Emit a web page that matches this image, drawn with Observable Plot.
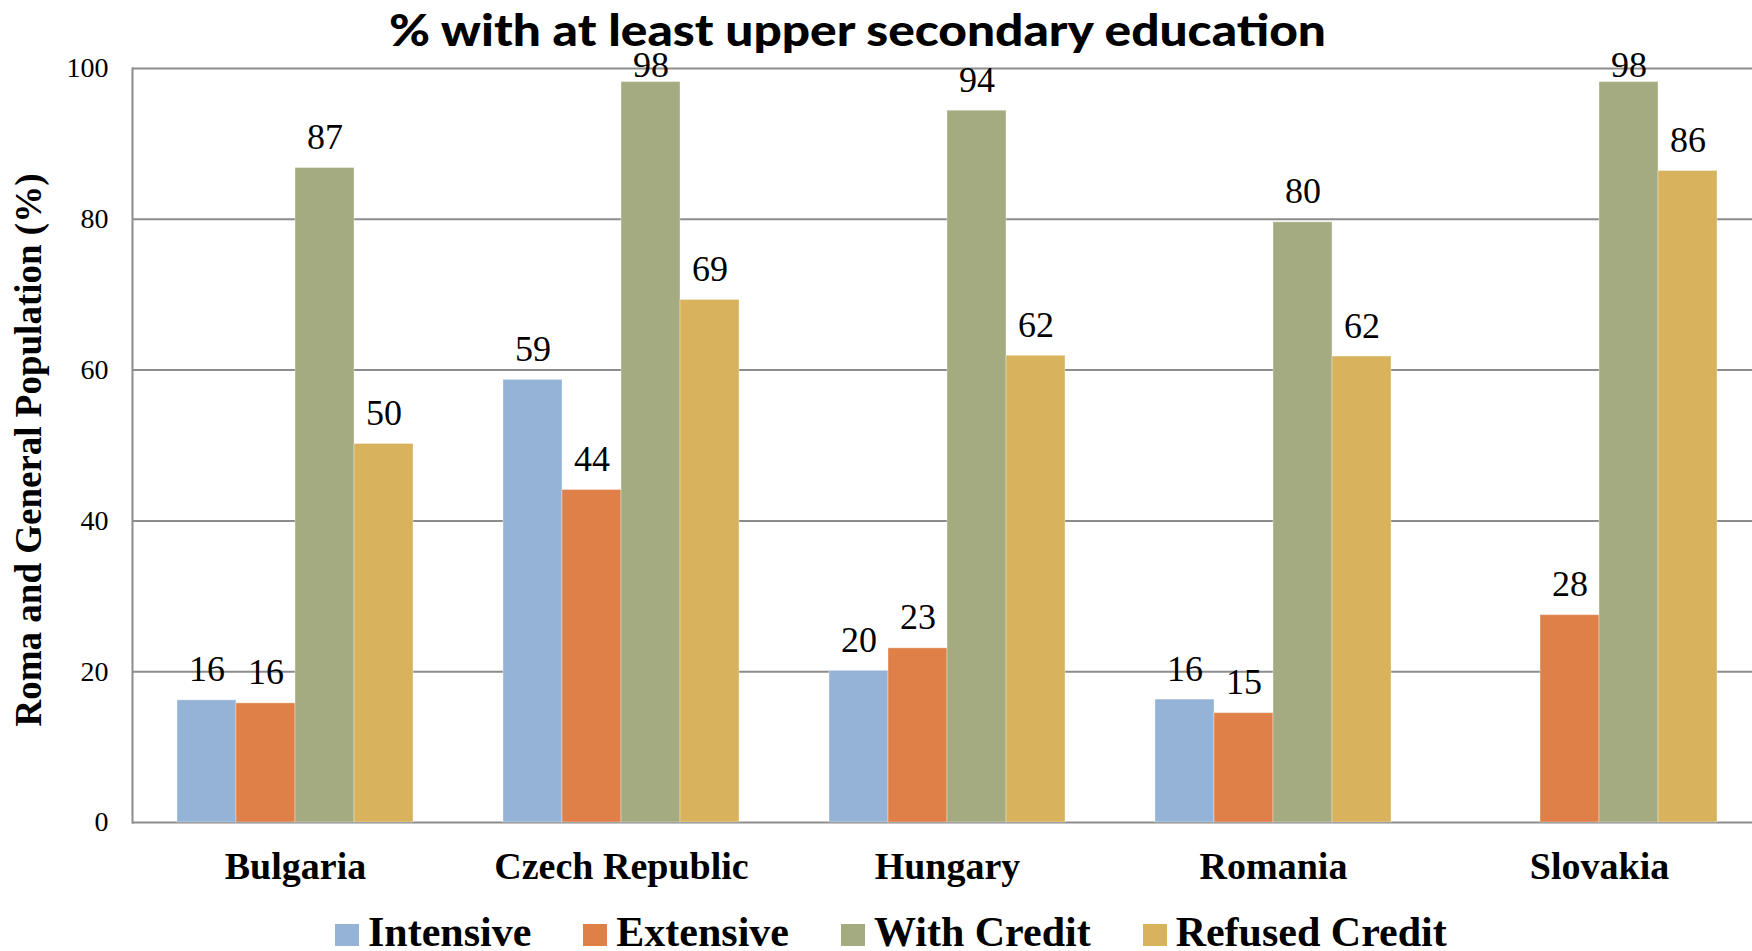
<!DOCTYPE html>
<html>
<head>
<meta charset="utf-8">
<script src="https://cdn.jsdelivr.net/npm/d3@7"></script>
<script src="https://cdn.jsdelivr.net/npm/@observablehq/plot@0.6"></script>
<style>
  body { margin: 0; background: #fff; }
  #wrap { position: relative; width: 1752px; height: 951px; overflow: hidden; background: #fff; }
  #wrap svg { position: absolute; left: 0; top: 0; }
  #title { position: absolute; left: 389px; top: 7px; font-family: Lato, "Open Sans", sans-serif; font-weight: 900;
           font-size: 44px; line-height: 1; white-space: nowrap; transform-origin: left top; color: #000; }
  #ylabel { position: absolute; left: 28px; top: 450px; transform: translate(-50%, -50%) rotate(-90deg);
            font-family: "Liberation Serif", "Times New Roman", serif; font-weight: bold; font-size: 37px;
            line-height: 1; white-space: nowrap; color: #000; }
  #legend { position: absolute; left: 335px; top: 915px; display: flex; align-items: baseline;
            font-family: "Liberation Serif", "Times New Roman", serif; font-weight: bold; font-size: 42px;
            line-height: 34px; white-space: nowrap; color: #000; }
  .item { display: flex; align-items: baseline; margin-right: 52px; }
  .sw { display: inline-block; width: 24px; height: 22px; margin-right: 9px; }
</style>
</head>
<body>
<div id="wrap">
  <div id="title"></div>
  <div id="ylabel"></div>
  <div id="legend"></div>
</div>
<script>
const titleText = "% with at least upper secondary education";
const yLabelText = "Roma and General Population (%)";
const countries = ["Bulgaria", "Czech Republic", "Hungary", "Romania", "Slovakia"];
const series = ["Intensive", "Extensive", "With Credit", "Refused Credit"];
const colors = ["#95B3D7", "#DE8048", "#A5AB80", "#D8B25C"];
const intensive     = [16.2, 58.7, 20.1, 16.3, null];
const extensive     = [15.8, 44.1, 23.1, 14.5, 27.5];
const withCredit    = [86.8, 98.2, 94.4, 79.6, 98.2];
const refusedCredit = [50.2, 69.3, 61.9, 61.8, 86.4];
const yTicks = [0, 20, 40, 60, 80, 100];

const seriesValues = [intensive, extensive, withCredit, refusedCredit];
const rows = [];
countries.forEach((c, i) => {
  seriesValues.forEach((arr, j) => {
    if (arr[i] != null) rows.push({country: c, series: series[j], value: arr[i]});
  });
});

const serif = "'Liberation Serif', 'Times New Roman', serif";

const chart = Plot.plot({
  width: 1752,
  height: 905,
  marginTop: 68,
  marginBottom: 83,
  marginLeft: 132,
  marginRight: -10,
  style: "font-family: 'Liberation Serif', 'Times New Roman', serif; background: transparent; color: #000; overflow: hidden;",
  fx: {domain: countries, padding: 0, label: null},
  x: {domain: series, paddingInner: 0, paddingOuter: 0.746, axis: null},
  y: {domain: [0, 100], label: null},
  color: {domain: series, range: colors},
  marks: [
    Plot.gridY(yTicks, {stroke: "#8c8c8c", strokeOpacity: 1, strokeWidth: 2}),
    Plot.barY(rows, {fx: "country", x: "series", y: "value", fill: "series",
                     stroke: "#ffffff", strokeOpacity: 0.35, strokeWidth: 1}),
    Plot.text(rows, {fx: "country", x: "series", y: d => Math.min(d.value, 96.4),
                     text: d => String(Math.round(d.value)), dy: -19, lineAnchor: "bottom",
                     fontSize: 36, fontFamily: serif, fill: "#000"}),
    Plot.frame({anchor: "left", facetAnchor: "left", stroke: "#8c8c8c", strokeWidth: 2}),
    Plot.axisY(yTicks, {tickSize: 0, tickPadding: 24, fontSize: 28, fontFamily: serif, label: null}),
    Plot.axisFx({anchor: "bottom", tickSize: 0, tickPadding: 30, fontSize: 38, fontFamily: serif,
                 fontWeight: "bold", label: null})
  ]
});
document.getElementById("wrap").appendChild(chart);

const t = document.getElementById("title");
t.textContent = titleText;
const tw = t.getBoundingClientRect().width;
t.style.transform = `scaleX(${937 / tw})`;

document.getElementById("ylabel").textContent = yLabelText;

const legend = document.getElementById("legend");
series.forEach((s, i) => {
  const item = document.createElement("div");
  item.className = "item";
  const sw = document.createElement("span");
  sw.className = "sw";
  sw.style.background = colors[i];
  const lab = document.createElement("span");
  lab.textContent = s;
  item.appendChild(sw);
  item.appendChild(lab);
  legend.appendChild(item);
});
</script>
</body>
</html>
